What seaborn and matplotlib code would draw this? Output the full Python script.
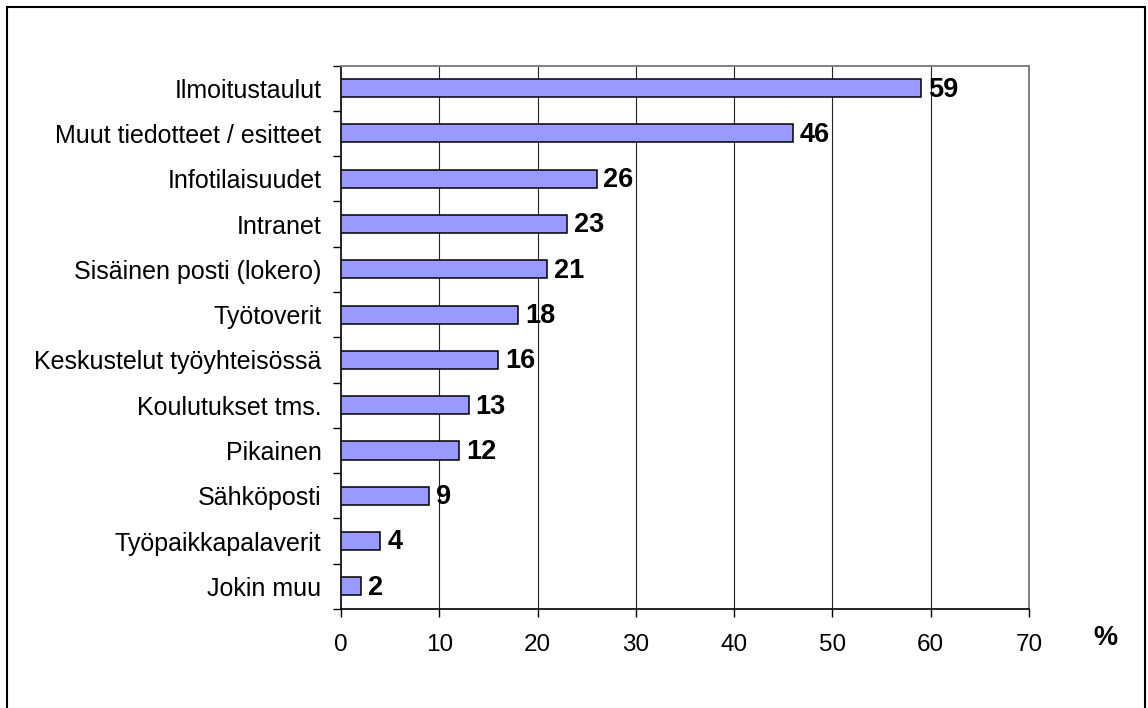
import matplotlib
matplotlib.use("Agg")
import matplotlib.pyplot as plt
import seaborn as sns
import pandas as pd
import numpy as np
from matplotlib.patches import Rectangle

categories = ["Ilmoitustaulut", "Muut tiedotteet / esitteet", "Infotilaisuudet", "Intranet",
              "Sisäinen posti (lokero)", "Työtoverit", "Keskustelut työyhteisössä",
              "Koulutukset tms.", "Pikainen", "Sähköposti", "Työpaikkapalaverit", "Jokin muu"]
values = [59, 46, 26, 23, 21, 18, 16, 13, 12, 9, 4, 2]
xticks = [0, 10, 20, 30, 40, 50, 60, 70]

sns.set_theme(style="white")
plt.rcParams['font.family'] = ['Liberation Sans', 'DejaVu Sans']
plt.rcParams['text.color'] = 'black'
plt.rcParams['xtick.color'] = 'black'
plt.rcParams['ytick.color'] = 'black'

fig = plt.figure(figsize=(11.48, 7.08), dpi=100)
ax = fig.add_axes([341/1148, 1 - 609/708, (1029 - 341)/1148, (609 - 65.5)/708])

df = pd.DataFrame({"cat": categories, "val": values})
sns.barplot(data=df, x="val", y="cat", orient="h", color="#9999FF", saturation=1,
            edgecolor="black", linewidth=1.1, width=0.4, ax=ax, zorder=3)

ax.set_xlim(0, 70)
ax.set_ylim(len(categories) - 0.5, -0.5)
ax.set_xlabel("")
ax.set_ylabel("")

# gridlines
for x in xticks[1:-1]:
    ax.axvline(x, color="#222222", linewidth=0.8, zorder=1)

# spines
for s in ["left", "bottom"]:
    ax.spines[s].set_color("black")
    ax.spines[s].set_linewidth(1.2)
for s in ["top", "right"]:
    ax.spines[s].set_color("#808080")
    ax.spines[s].set_linewidth(1.4)

# x ticks
ax.set_xticks(xticks)
ax.set_xticklabels([str(t) for t in xticks], fontsize=17.5, color="black")
ax.tick_params(axis="x", direction="out", length=6, width=1, color="black", pad=12, bottom=True)

# y ticks: major at boundaries (no labels), minor at centers (labels)
n = len(categories)
ax.set_yticks(np.arange(-0.5, n, 1.0))
ax.set_yticklabels([])
ax.set_yticks(np.arange(n), minor=True)
ax.set_yticklabels(categories, minor=True, fontsize=18, color="black")
ax.tick_params(axis="y", which="major", direction="out", length=6, width=1, color="black", left=True)
ax.tick_params(axis="y", which="minor", length=0, pad=14, left=True)

# value labels
for i, v in enumerate(values):
    ax.text(v + 0.7, i + 0.03, str(v), va="center", ha="left", fontsize=19.5, fontweight="bold",
            color="black", zorder=4)

fig.text(1105/1148, 1 - 638/708, "%", ha="center", va="center", fontsize=19.5,
         fontweight="bold", color="black")

fig.patches.append(Rectangle((7/1148, -0.02), (1145 - 7)/1148, 1 - 7/708 + 0.02,
                             transform=fig.transFigure, fill=False, edgecolor="black",
                             linewidth=1.5))

fig.savefig("out.png", dpi=100)
